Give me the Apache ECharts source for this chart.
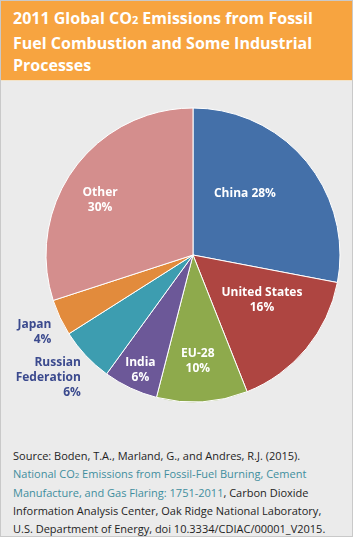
<!DOCTYPE html>
<html>
<head>
<meta charset="utf-8">
<script src="https://cdn.jsdelivr.net/npm/echarts@6/dist/echarts.min.js"></script>
<style>
    html, body { margin: 0; padding: 0; background: #fff; }
    #box {
        position: relative; width: 351px; height: 535px;
        border: 1px solid #c9c9c9; background: #ebebeb; overflow: hidden;
        font-family: "Open Sans", "DejaVu Sans", sans-serif;
    }
    #head {
        background: #f7a440; color: #fff; font-weight: bold;
        font-size: 16px; line-height: 22.5px; height: 80px;
        padding: 6px 8px 0 12px; box-sizing: border-box;
        border-bottom: 1px solid #f3e3c8;
    }
    #head small { font-size: 11px; }
    #pvPie { width: 351px; height: 355px; }
    #src {
        position: absolute; left: 12px; top: 446px; width: 318px;
        font-size: 11px; line-height: 18px; color: #1e1e1e;
    }
    #src a { color: #3f8e9e; text-decoration: none; }
    #src small { font-size: 8px; }
</style>
</head>
<body>
<div id="box">
    <div id="head">2011 Global CO<small>2</small> Emissions from Fossil Fuel Combustion and Some Industrial Processes</div>
    <div id="pvPie"></div>
    <div id="src">Source: Boden, T.A., Marland, G., and Andres, R.J. (2015).<br><a>National CO<small>2</small> Emissions from Fossil-Fuel Burning, Cement Manufacture, and Gas Flaring: 1751-2011</a>, Carbon Dioxide Information Analysis Center, Oak Ridge National Laboratory, U.S. Department of Energy, doi 10.3334/CDIAC/00001_V2015.</div>
</div>
<script>
    var names = ['China', 'United States', 'EU-28', 'India', 'Russian\nFederation', 'Japan', 'Other'];
    var shares = [28, 16, 10, 6, 6, 4, 30];
    var colors = ['#4470a9', '#ae4541', '#8eaa4c', '#6c5898', '#3d9db0', '#e28b3c', '#d48e8d'];
    var outside = ['Japan', 'Russian\nFederation'];
    // nudges so the labels sit where the original put them
    var nudge = [[-7, -13], [10, -4], [0, 30], [-20, 46], [3, 19], [0, 13], [-31, -10]];

    var pvPie = echarts.init(document.getElementById('pvPie'));

    var data = [];
    for (var i = 0; i < names.length; i++) {
        var out = outside.indexOf(names[i]) >= 0;
        data.push({
            name: names[i],
            value: shares[i],
            itemStyle: { color: colors[i] },
            label: {
                position: out ? 'outside' : 'inside',
                color: out ? '#3b4a8e' : '#ffffff'
            },
            labelLine: { show: false, length: 4, length2: 0 }
        });
    }

    var option = {
        animation: false,
        series: [{
            type: 'pie',
            center: [192, 174],
            radius: [0, 147],
            startAngle: 90,
            clockwise: true,
            avoidLabelOverlap: false,
            itemStyle: { borderColor: '#ffffff', borderWidth: 1 },
            label: {
                fontFamily: '"Open Sans", "DejaVu Sans", sans-serif',
                fontSize: 12,
                fontWeight: 'bold',
                lineHeight: 15,
                align: 'center',
                formatter: function (p) {
                    return p.name === 'China' ? p.name + ' ' + p.value + '%' : p.name + '\n' + p.value + '%';
                }
            },
            labelLayout: function (p) {
                return { dx: nudge[p.dataIndex][0], dy: nudge[p.dataIndex][1], hideOverlap: false };
            },
            data: data
        }]
    };
    pvPie.setOption(option);
</script>
</body>
</html>
